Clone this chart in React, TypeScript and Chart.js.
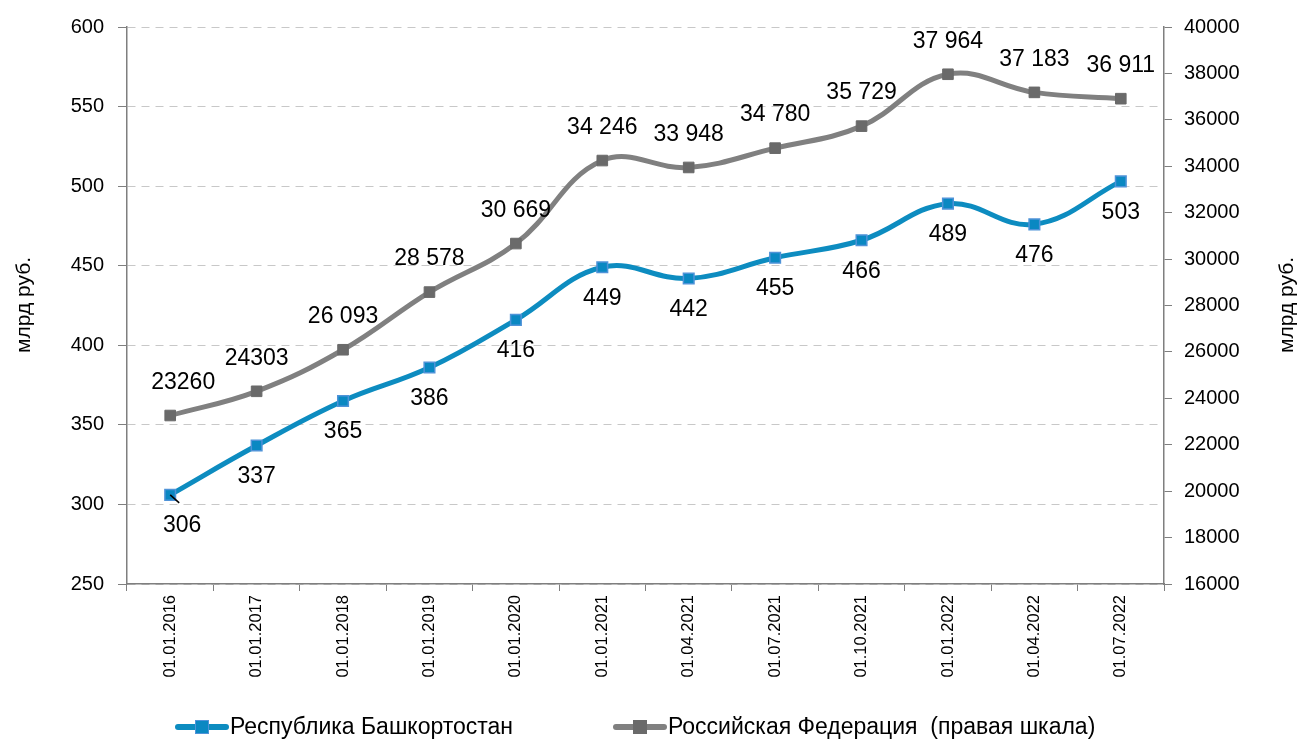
import React, { useEffect, useRef } from "react";
import { Chart, registerables } from "chart.js";

Chart.register(...registerables);

const categories = [
  "01.01.2016", "01.01.2017", "01.01.2018", "01.01.2019", "01.01.2020", "01.01.2021",
  "01.04.2021", "01.07.2021", "01.10.2021", "01.01.2022", "01.04.2022", "01.07.2022",
];
const bashValues = [306, 337, 365, 386, 416, 449, 442, 455, 466, 489, 476, 503];
const rfValues = [23260, 24303, 26093, 28578, 30669, 34246, 33948, 34780, 35729, 37964, 37183, 36911];
const rfLabels = ["23260", "24303", "26 093", "28 578", "30 669", "34 246", "33 948", "34 780", "35 729", "37 964", "37 183", "36 911"];
const bashLabels = bashValues.map((v) => String(v));

const seriesNames = ["Республика Башкортостан", "Российская Федерация  (правая шкала)"];
const axisTitle = "млрд руб.";

const FONT = "'Liberation Sans', Arial, sans-serif";
const BLUE = "#0d8cc0";
const BLUE_MARK = "#0a88c2";
const BLUE_BORDER = "#4f93d8";
const GRAY = "#808080";
const GRAY_MARK = "#6a6a6a";

const labelPlugin = {
  id: "valueLabels",
  afterDatasetsDraw(chart: any) {
    const ctx = chart.ctx;
    ctx.save();
    ctx.font = `23px ${FONT}`;
    ctx.fillStyle = "#000";
    ctx.textAlign = "center";
    ctx.textBaseline = "middle";
    const m0 = chart.getDatasetMeta(0);
    const m1 = chart.getDatasetMeta(1);
    m0.data.forEach((pt: any, i: number) => {
      ctx.fillText(bashLabels[i], pt.x + (i === 0 ? 12 : 0), pt.y + 31);
      if (i === 0) {
        ctx.strokeStyle = "#000";
        ctx.lineWidth = 1.5;
        ctx.beginPath();
        ctx.moveTo(pt.x, pt.y);
        ctx.lineTo(pt.x + 9, pt.y + 8);
        ctx.stroke();
      }
    });
    m1.data.forEach((pt: any, i: number) => {
      ctx.fillText(rfLabels[i], pt.x + (i === 0 ? 13 : 0), pt.y - 33);
    });

    // axis titles, both reading bottom-to-top
    const area = chart.chartArea;
    const cy = 305;
    ctx.font = `21px ${FONT}`;
    [24, 1287].forEach((x) => {
      ctx.save();
      ctx.translate(x, cy);
      ctx.rotate(-Math.PI / 2);
      ctx.fillText(axisTitle, 0, 0);
      ctx.restore();
    });
    void area;
    ctx.restore();
  },
};

export default function App() {
  const ref = useRef<HTMLCanvasElement>(null);
  useEffect(() => {
    const chart = new Chart(ref.current!, {
      type: "line",
      data: {
        labels: categories,
        datasets: [
          {
            label: seriesNames[0],
            data: bashValues,
            yAxisID: "y",
            borderColor: BLUE,
            borderWidth: 5,
            tension: 0.4,
            pointStyle: "rect",
            pointRadius: 7.5,
            pointBackgroundColor: BLUE_MARK,
            pointBorderColor: BLUE_BORDER,
            pointBorderWidth: 1.5,
            order: 0,
          },
          {
            label: seriesNames[1],
            data: rfValues,
            yAxisID: "y1",
            borderColor: GRAY,
            borderWidth: 5,
            tension: 0.4,
            pointStyle: "rect",
            pointRadius: 7.5,
            pointBackgroundColor: GRAY_MARK,
            pointBorderColor: GRAY_MARK,
            pointBorderWidth: 1,
            order: 1,
          },
        ],
      },
      options: {
        responsive: false,
        animation: false,
        layout: { padding: { top: 27, left: 0, right: 0, bottom: 0 } },
        plugins: { legend: { display: false }, tooltip: { enabled: false } },
        scales: {
          x: {
            offset: true,
            grid: { offset: true, drawOnChartArea: false, tickLength: 7, color: "#7f7f7f", tickColor: "#7f7f7f" },
            border: { color: "#7f7f7f", width: 1.5 },
            ticks: {
              minRotation: 90,
              maxRotation: 90,
              autoSkip: false,
              color: "#000",
              font: { family: FONT, size: 16.5 },
              padding: 4,
            },
            afterFit: (s: any) => { s.height = 158; },
          },
          y: {
            position: "left",
            min: 250,
            max: 600,
            ticks: { stepSize: 50, color: "#000", font: { family: FONT, size: 20 }, padding: 14 },
            grid: { color: "#c8c8c8", tickColor: "#7f7f7f", tickLength: 9, lineWidth: 1 },
            border: { color: "#7f7f7f", width: 1.5, dash: [8, 6] },
            afterFit: (s: any) => { s.width = 127; },
          },
          y1: {
            position: "right",
            min: 16000,
            max: 40000,
            ticks: {
              stepSize: 2000,
              color: "#000",
              font: { family: FONT, size: 20 },
              padding: 12,
              callback: (v: any) => String(v),
            },
            grid: { drawOnChartArea: false, tickColor: "#7f7f7f", tickLength: 8 },
            border: { color: "#7f7f7f", width: 1.5 },
            afterFit: (s: any) => { s.width = 135; },
          },
        },
      },
      plugins: [labelPlugin],
    });
    return () => chart.destroy();
  }, []);

  const legendItem = (name: string, line: string, fill: string, border: string) => (
    <div style={{ display: "flex", alignItems: "center" }}>
      <div style={{ position: "relative", width: 54, height: 16, marginRight: 1 }}>
        <div style={{ position: "absolute", left: 0, right: 0, top: 5, height: 6, background: line, borderRadius: 3 }} />
        <div style={{ position: "absolute", left: 20, top: 1, width: 12, height: 12, background: fill, border: `1.5px solid ${border}` }} />
      </div>
      <span style={{ fontFamily: FONT, fontSize: 23, color: "#000", whiteSpace: "pre" }}>{name}</span>
    </div>
  );

  return (
    <div style={{ position: "fixed", left: 0, top: 0, width: 1299, height: 742, background: "#fff" }}>
      <canvas ref={ref} width={1299} height={742} style={{ display: "block" }} />
      <div style={{ position: "absolute", left: 175, top: 713, display: "flex" }}>
        {legendItem(seriesNames[0], BLUE, BLUE_MARK, BLUE_BORDER)}
      </div>
      <div style={{ position: "absolute", left: 613, top: 713, display: "flex" }}>
        {legendItem(seriesNames[1], GRAY, GRAY_MARK, GRAY_MARK)}
      </div>
    </div>
  );
}
